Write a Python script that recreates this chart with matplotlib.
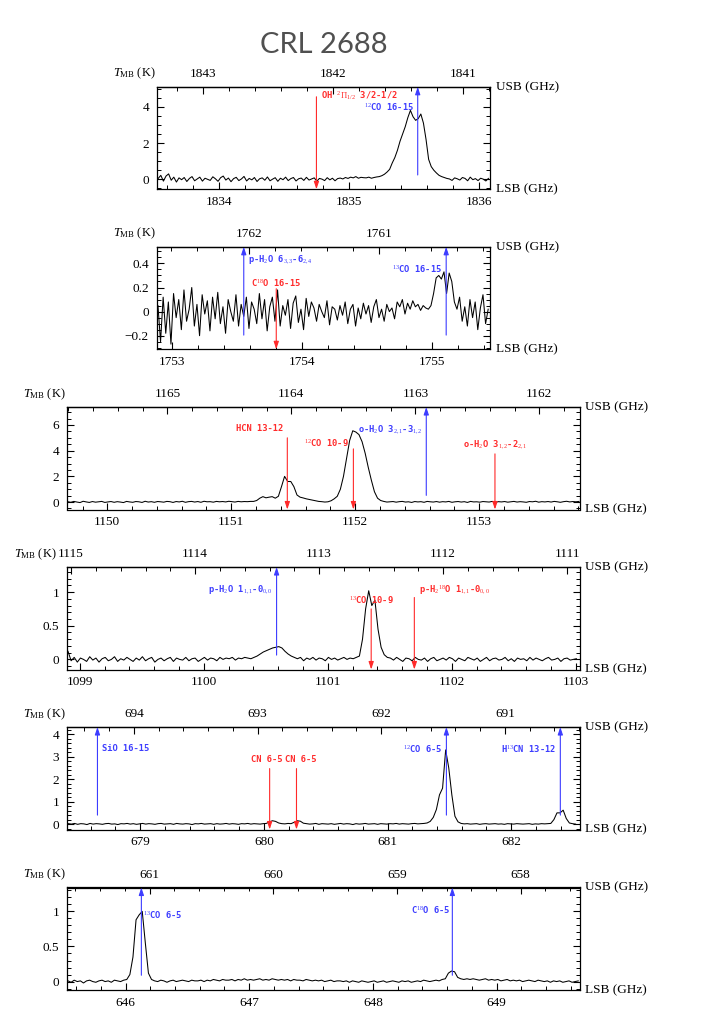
import numpy as np
import matplotlib
matplotlib.use('Agg')
import matplotlib.pyplot as plt
from matplotlib.ticker import MultipleLocator, FuncFormatter, FixedLocator

plt.rcParams['mathtext.fontset'] = 'custom'
plt.rcParams['mathtext.rm'] = 'Liberation Serif'
plt.rcParams['mathtext.it'] = 'Liberation Serif:italic'
plt.rcParams['mathtext.bf'] = 'Liberation Serif:bold'
plt.rcParams['font.family'] = ['Liberation Serif', 'DejaVu Serif']

TITLE = 'CRL 2688'

# ---------------- data: spectra (T_MB in K), channel grid in LSB GHz ----------------
p1_start, p1_step = 1833.53, 0.02
p1_vals = [0.05, 0.22, -0.10, 0.18, 0.30, -0.05, 0.12, -0.15, 0.08, -0.02,
           0.10, -0.12, 0.05, 0.15, -0.08, 0.02, 0.12, -0.10, 0.06, 0.00,
           -0.06, 0.14, 0.03, -0.11, 0.09, 0.18, -0.04, 0.07, -0.13, 0.04,
           0.11, -0.07, 0.02, 0.16, -0.09, 0.05, -0.03, 0.10, -0.12, 0.03,
           0.08, -0.05, 0.13, -0.08, 0.01, 0.09, -0.11, 0.06, -0.02, 0.12,
           -0.07, 0.04, 0.10, -0.09, 0.03, 0.07, -0.06, 0.11, -0.04, 0.02,
           0.08, -0.10, 0.05, 0.01, -0.07, 0.09, -0.03, 0.06, -0.08, 0.04,
           0.07, 0.02, 0.10, 0.05, 0.12, 0.08, 0.15, 0.06, 0.11, 0.09,
           0.08, 0.12, 0.06, 0.10, 0.13, 0.15, 0.20, 0.28, 0.40, 0.55,
           0.90, 1.20, 1.60, 2.10, 2.50, 2.90, 3.40, 3.80, 3.45, 3.25,
           3.35, 3.60, 3.10, 2.20, 1.10, 0.70, 0.50, 0.35, 0.22, 0.15,
           0.10, 0.05, 0.02, -0.06, 0.08, 0.03, -0.04, 0.10, 0.05, -0.08,
           0.12, -0.02, 0.04, -0.07, 0.06, 0.01, -0.09, 0.05]

p2_start, p2_step = 1752.89, 0.02
p2_vals = [0.05, -0.25, 0.12, -0.18, 0.08, -0.27, 0.15, -0.05, 0.10, -0.15,
           0.18, -0.08, 0.02, 0.20, -0.12, 0.06, -0.20, 0.14, -0.02, 0.09,
           -0.16, 0.12, -0.06, 0.16, -0.10, 0.04, -0.18, 0.10, 0.00, -0.08,
           0.14, -0.12, 0.06, -0.04, 0.12, -0.14, 0.08, 0.02, -0.10, 0.15,
           -0.06, 0.10, -0.16, 0.04, 0.12, -0.08, 0.18, -0.12, 0.05, -0.03,
           0.10, -0.14, 0.07, 0.13, -0.09, 0.02, -0.15, 0.11, -0.04, 0.08,
           0.03, -0.08, 0.06, 0.00, -0.05, 0.09, -0.11, 0.04, 0.02, -0.07,
           0.05, -0.03, 0.08, -0.10, 0.02, 0.06, -0.12, 0.03, -0.06, 0.07,
           -0.02, 0.05, -0.09, 0.04, 0.10, -0.05, 0.02, -0.08, 0.06, 0.00,
           0.03, -0.06, 0.08, 0.04, 0.10, -0.02, 0.07, 0.02, 0.09, 0.04,
           0.06, 0.01, 0.05, 0.03, 0.02,
           0.05, 0.15, 0.28, 0.30, 0.27, 0.33, 0.15, 0.32, 0.25, 0.08, 0.02,
           0.12, -0.08, 0.04, -0.12, 0.10, -0.05, 0.08, -0.15, 0.03, 0.14, -0.10, 0.02]

p3_start, p3_step = 1149.68, 0.025
p3_vals = [0.03, -0.02, 0.05, 0.00, -0.04, 0.06, 0.01, -0.03, 0.04, -0.01,
           0.02, 0.05, -0.03, 0.01, 0.04, -0.02, 0.03, 0.00, -0.04, 0.05,
           0.01, -0.02, 0.04, 0.02, -0.03, 0.06, 0.00, 0.03, -0.02, 0.04,
           0.02, -0.01, 0.05, 0.03, -0.03, 0.04, 0.01, 0.06, -0.02, 0.03,
           0.05, 0.00, 0.04, -0.02, 0.06, 0.02, 0.03, -0.01, 0.05, 0.02,
           0.04, 0.01, 0.06, 0.03, 0.00, 0.05, 0.02, 0.04, 0.03, 0.05,
           0.05, 0.12, 0.30, 0.42, 0.33, 0.38, 0.42, 0.30, 0.45, 1.20,
           2.00, 1.60, 1.60, 1.20, 0.55, 0.38, 0.32, 0.25, 0.20, 0.15,
           0.10, 0.05, 0.03, 0.00, 0.02, 0.10, 0.25, 0.45, 1.00, 2.00,
           3.40, 4.80, 5.55, 5.45, 5.25, 4.70, 3.80, 2.70, 1.70, 0.80,
           0.30, 0.12, 0.05, 0.00,
           0.02, 0.04, -0.01, 0.03, 0.05, 0.00, 0.02, -0.03, 0.04, 0.01,
           0.03, -0.02, 0.05, 0.02, 0.00, 0.04, -0.01, 0.03, 0.01, 0.05,
           -0.02, 0.02, 0.04, 0.00, 0.03, -0.03, 0.05, 0.01, 0.02, -0.01,
           0.04, 0.02, 0.00, 0.05, -0.02, 0.03, 0.01, 0.04, -0.01, 0.02,
           0.05, 0.00, 0.03, 0.01, -0.02, 0.04, 0.02, 0.06, -0.01, 0.03,
           0.01, 0.04, 0.00, 0.05, 0.02, -0.02, 0.03, 0.06, 0.01, 0.04,
           0.02, 0.05]

p4_start, p4_step = 1098.905, 0.025
p4_vals = [0.12, -0.02, 0.03, -0.04, 0.02, 0.00, -0.03, 0.04, -0.01, 0.02,
           -0.04, 0.01, 0.03, -0.02, 0.00, 0.04, -0.03, 0.01, -0.01, 0.03,
           0.00, -0.03, 0.02, -0.01, 0.04, -0.02, 0.01, 0.03, -0.04, 0.00,
           0.02, -0.02, 0.01, 0.03, -0.03, 0.02, 0.00, -0.01, 0.03, -0.02,
           0.01, 0.02, -0.03, 0.00, 0.03, -0.01, 0.02, 0.01, -0.02, 0.03,
           0.00, 0.02, 0.01, 0.03, -0.01, 0.02, 0.01, 0.03, 0.02, 0.01,
           0.03, 0.05, 0.08, 0.11, 0.13, 0.15, 0.17, 0.18, 0.19, 0.17, 0.12, 0.08, 0.05, 0.03,
           0.01, 0.03, -0.02, 0.02, 0.00, 0.03, -0.01, 0.02, 0.01, -0.02,
           0.03, 0.00, 0.02, -0.01, 0.01, 0.03, 0.00, 0.02, 0.01, 0.03,
           0.05, 0.30, 0.75, 1.02, 0.80, 0.88, 0.45, 0.18, 0.07, 0.03,
           0.02, -0.01, 0.03, 0.00, -0.03, 0.02, 0.01, -0.02, 0.03, 0.00,
           -0.01, 0.02, -0.03, 0.01, 0.03, -0.02, 0.00, 0.02, -0.01, 0.03,
           0.01, -0.03, 0.02, 0.00, -0.02, 0.03, 0.01, -0.01, 0.02, -0.03,
           0.00, 0.03, -0.02, 0.01, 0.02, -0.01, 0.00, 0.03, -0.02, 0.01,
           -0.03, 0.02, 0.00, 0.01, -0.02, 0.03, -0.01, 0.02, 0.00, -0.02,
           0.01, 0.03, -0.01, 0.00, 0.02, -0.03, 0.01, 0.02, -0.01, 0.00,
           0.01]

p5_start, p5_step = 678.42, 0.025
p5_vals = [0.02, 0.00, 0.03, -0.01, 0.02, 0.01, -0.02, 0.03, 0.00, 0.02,
           0.01, -0.01, 0.02, 0.03, 0.00, 0.01, -0.02, 0.02, 0.01, 0.03,
           0.00, 0.02, -0.01, 0.01, 0.03, 0.00, 0.02, 0.01, -0.01, 0.02,
           0.03, 0.00, 0.01, 0.02, -0.01, 0.03, 0.01, 0.00, 0.02, 0.01,
           -0.02, 0.02, 0.01, 0.03, 0.00, 0.01, 0.02, -0.01, 0.02, 0.00,
           0.01, 0.03, 0.00, 0.02, 0.01, -0.01, 0.02, 0.01, 0.03, 0.00,
           0.02, 0.01, 0.00, 0.02, 0.03,
           0.10, 0.15, 0.12, 0.05, 0.02, 0.01, 0.03, 0.02, 0.08, 0.15, 0.13, 0.04,
           0.02, 0.00, 0.01, 0.03, -0.01, 0.02, 0.01, 0.00, 0.02, -0.01,
           0.01, 0.03, 0.00, 0.02, 0.01, -0.02, 0.02, 0.00, 0.01, 0.03,
           0.00, 0.01, 0.02, -0.01, 0.02, 0.01, 0.00, 0.02, 0.01, 0.03,
           0.00, 0.02, 0.01, 0.00, 0.02, 0.03, 0.01, 0.02, 0.03,
           0.05, 0.12, 0.30, 0.65, 1.30, 1.60, 3.30, 2.50, 1.30, 0.35, 0.10, 0.03,
           0.01, 0.02, 0.00, 0.01, 0.02, -0.01, 0.01, 0.02, 0.00, 0.01,
           0.02, 0.00, 0.01, -0.01, 0.02, 0.01, 0.00, 0.02, 0.01, 0.00,
           0.01, 0.02, -0.01, 0.01, 0.00, 0.02, 0.01, 0.02,
           0.03, 0.20, 0.50, 0.50, 0.62, 0.25, 0.05, 0.02, 0.00]

p6_start, p6_step = 645.535, 0.025
p6_vals = [0.01, -0.01, 0.02, 0.00, 0.01, -0.02, 0.01, 0.02, 0.00, -0.01,
           0.01, 0.02, 0.00, 0.01, -0.01, 0.02, 0.01, 0.00, 0.02,
           0.03, 0.10, 0.35, 0.88, 0.95, 1.00, 0.55, 0.12, 0.03,
           0.01, 0.00, 0.02, 0.01, -0.01, 0.01, 0.02, 0.00, 0.01, 0.02,
           0.01, 0.00, 0.02, 0.01, 0.01, 0.02, 0.00, 0.02, 0.01, 0.03,
           0.02, 0.01, 0.03, 0.02, 0.02, 0.03, 0.01, 0.03, 0.02, 0.04,
           0.02, 0.03, 0.02, 0.03, 0.04, 0.02, 0.03, 0.02, 0.04, 0.03,
           0.02, 0.03, 0.02, 0.03, 0.01, 0.03, 0.02, 0.02, 0.01, 0.03,
           0.02, 0.01, 0.02, 0.01, 0.02, 0.00, 0.01, 0.02, 0.00, 0.01,
           0.01, 0.00, 0.01, -0.01, 0.01, 0.00, -0.01, 0.01, 0.00, -0.01,
           0.00, 0.01, -0.01, 0.00, 0.01, -0.01, 0.00, 0.01, 0.00, -0.01,
           0.01, 0.00, 0.01, -0.01, 0.00, 0.01, 0.00, 0.02, 0.01, 0.00,
           0.01, 0.02, 0.01, 0.03,
           0.04, 0.12, 0.15, 0.14, 0.06, 0.04,
           0.03, 0.04, 0.03, 0.04, 0.03, 0.02, 0.03, 0.04, 0.02, 0.03,
           0.02, 0.03, 0.01, 0.02, 0.03, 0.01, 0.02, 0.01, 0.02, 0.00,
           0.01, 0.02, 0.01, 0.00, 0.02, 0.01, 0.00, 0.01, -0.01, 0.01,
           0.00, 0.01, -0.01, 0.00, 0.01, -0.01, 0.00, 0.01]

# LSB limits (GHz) and USB = C - LSB mirror constant
p_xlims = [(1833.523, 1836.082), (1752.885, 1755.444), (1149.678, 1153.809),
           (1098.90, 1103.03), (678.412, 682.552), (645.530, 649.670)]
p_usb_const = [3676.872, 3515.593, 2315.485, 2213.93, 1372.949, 1307.195]
p_ylims = [(-0.55, 5.1), (-0.313, 0.538), (-0.58, 7.4),
           (-0.15, 1.373), (-0.24, 4.32), (-0.12, 1.34)]
p_ymajor = [2, 0.2, 2, 0.5, 1, 0.5]
p_yminor = [0.5, 0.05, 0.5, 0.1, 0.2, 0.1]

# line identifications: (sideband, rest frequency GHz, label)
p1_lines = [('L', 1834.747, r'OH $^2\Pi_{1/2}$ 3/2-1/2'),
            ('U', 1841.346, r'$^{12}$CO 16-15')]
p2_lines = [('U', 1762.043, r'p-H$_2$O 6$_{3,3}$-6$_{2,4}$'),
            ('L', 1753.80, r'C$^{18}$O 16-15'),
            ('U', 1760.486, r'$^{13}$CO 16-15')]
p3_lines = [('L', 1151.452, 'HCN 13-12'),
            ('L', 1151.985, r'$^{12}$CO 10-9'),
            ('U', 1162.912, r'o-H$_2$O 3$_{2,1}$-3$_{1,2}$'),
            ('L', 1153.127, r'o-H$_2$O 3$_{1,2}$-2$_{2,1}$')]
p4_lines = [('U', 1113.343, r'p-H$_2$O 1$_{1,1}$-0$_{0,0}$'),
            ('L', 1101.350, r'$^{13}$CO 10-9'),
            ('L', 1101.698, r'p-H$_2$$^{18}$O 1$_{1,1}$-0$_{0,0}$')]
p5_lines = [('U', 694.294, 'SiO 16-15'),
            ('L', 680.047, 'CN 6-5'),
            ('L', 680.264, 'CN 6-5'),
            ('U', 691.473, r'$^{12}$CO 6-5'),
            ('U', 690.552, r'H$^{13}$CN 13-12')]
p6_lines = [('U', 661.067, r'$^{13}$CO 6-5'),
            ('U', 658.553, r'C$^{18}$O 6-5')]

# layout of the marks: (arrow start y, label y, label ha, label dx in points)
p1_layout = [(4.55, 4.6, 'left', 3), (0.24, 4.0, 'right', -3)]
p2_layout = [(-0.195, 0.433, 'left', 3), (0.19, 0.245, 'center', 0), (-0.195, 0.36, 'right', -3)]
p3_layout = [(5.0, 5.7, 'right', -3), (4.14, 4.65, 'right', -3), (0.52, 5.64, 'right', -3),
             (3.75, 4.45, 'center', 0)]
p4_layout = [(0.064, 1.03, 'right', -3), (0.75, 0.89, 'center', 0), (0.92, 1.03, 'left', 3)]
p5_layout = [(0.4, 3.35, 'left', 3), (2.47, 2.88, 'center', -2), (2.47, 2.88, 'center', 3),
             (0.4, 3.38, 'right', -3), (0.4, 3.38, 'right', -3)]
p6_layout = [(0.09, 0.96, 'left', 1), (0.09, 1.03, 'right', -1)]

# ---------------- figure ----------------
W, H = 717, 1025
# axes rectangles in pixels: (left, bottom-from-top, width, height)
rects = [(157.3, 189.3, 332.7, 102.5), (157.3, 349.3, 332.7, 102.5),
         (67.4, 509.5, 512.1, 102.5), (67.4, 669.5, 512.1, 102.5),
         (67.4, 829.5, 512.1, 102.5), (67.4, 990.0, 512.1, 102.5)]
# horizontal offset (points) of the T_MB label from the axes' left edge
tmb_dx = [-1.5, -1.5, -1.5, -8.0, -1.5, -1.5]

RED = '#ff2a2a'
BLUE = '#3c3cff'
LBL = dict(family=['DejaVu Sans Mono'], fontsize=6.3, fontweight='bold')


def fmt(v, pos):
    v = round(v, 6)
    if abs(v) < 1e-9:
        return '0'
    return ('%g' % v).replace('-', '\u2212')


def in_range_ticks(a, b, step):
    lo, hi = min(a, b), max(a, b)
    n0 = int(np.ceil(lo / step - 1e-9))
    n1 = int(np.floor(hi / step + 1e-9))
    return [round(n * step, 6) for n in range(n0, n1 + 1)]


spectra = [(p1_start, p1_step, p1_vals), (p2_start, p2_step, p2_vals),
           (p3_start, p3_step, p3_vals), (p4_start, p4_step, p4_vals),
           (p5_start, p5_step, p5_vals), (p6_start, p6_step, p6_vals)]
lines_all = [p1_lines, p2_lines, p3_lines, p4_lines, p5_lines, p6_lines]
layout_all = [p1_layout, p2_layout, p3_layout, p4_layout, p5_layout, p6_layout]

fig = plt.figure(figsize=(W / 100, H / 100), dpi=100)

for k in range(6):
    l, b, w, h = rects[k]
    ax = fig.add_axes([l / W, 1 - b / H, w / W, h / H])
    start, step, vals = spectra[k]
    freq = start + step * np.arange(len(vals))
    ax.plot(freq, vals, color='black', lw=0.75)
    x0, x1 = p_xlims[k]
    ax.set_xlim(x0, x1)
    ax.set_ylim(*p_ylims[k])
    C = p_usb_const[k]

    for s in ax.spines.values():
        s.set_linewidth(0.9)
    ax.xaxis.set_major_locator(FixedLocator(in_range_ticks(x0, x1, 1)))
    ax.xaxis.set_minor_locator(FixedLocator(in_range_ticks(x0, x1, 0.2)))
    ax.yaxis.set_major_locator(MultipleLocator(p_ymajor[k]))
    ax.yaxis.set_minor_locator(MultipleLocator(p_yminor[k]))
    ax.xaxis.set_major_formatter(FuncFormatter(fmt))
    ax.yaxis.set_major_formatter(FuncFormatter(fmt))
    ax.tick_params(which='both', direction='in', top=False, right=True, labelsize=9.5)
    ax.tick_params(which='major', length=5, width=0.8, pad=5)
    ax.tick_params(which='minor', length=2.8, width=0.7)
    ax.tick_params(axis='y', pad=6)

    sec = ax.secondary_xaxis('top', functions=(lambda x, C=C: C - x, lambda x, C=C: C - x))
    sec.xaxis.set_major_locator(FixedLocator(in_range_ticks(C - x0, C - x1, 1)))
    sec.xaxis.set_minor_locator(FixedLocator(in_range_ticks(C - x0, C - x1, 0.2)))
    sec.xaxis.set_major_formatter(FuncFormatter(fmt))
    sec.tick_params(which='both', direction='in', labelsize=9.5)
    sec.tick_params(which='major', length=5, width=0.8, pad=5)
    sec.tick_params(which='minor', length=2.8, width=0.7)
    sec.spines['top'].set_linewidth(0.9)

    ax.annotate(r'$T_{\rm MB}$ (K)', xy=(0, 1), xycoords='axes fraction', xytext=(tmb_dx[k], 9.5),
                textcoords='offset points', ha='right', va='center', fontsize=9)
    ax.annotate('USB (GHz)', xy=(1, 1), xycoords='axes fraction', xytext=(4, 0),
                textcoords='offset points', ha='left', va='center', fontsize=9.5)
    ax.annotate('LSB (GHz)', xy=(1, 0), xycoords='axes fraction', xytext=(4, 0),
                textcoords='offset points', ha='left', va='center', fontsize=9.5)

    ylo, yhi = p_ylims[k]
    for (sb, f, lab), (y0, ylab, ha, dx) in zip(lines_all[k], layout_all[k]):
        if sb == 'U':
            x, col, yend = C - f, BLUE, yhi
        else:
            x, col, yend = f, RED, ylo
        ax.annotate('', xy=(x, yend), xytext=(x, y0),
                    arrowprops=dict(arrowstyle='-|>,head_length=0.45,head_width=0.15',
                                    color=col, lw=0.8, shrinkA=0, shrinkB=0),
                    annotation_clip=False)
        ax.annotate(lab, xy=(x, ylab), xytext=(dx, 0), textcoords='offset points',
                    ha=ha, va='center', color=col, **LBL)

fig.text(323.5 / W, 1 - 45 / H, TITLE, ha='center', va='center', fontsize=21,
         color='#505050', family=['Lato', 'DejaVu Sans'])

fig.savefig('out.png', dpi=100)
